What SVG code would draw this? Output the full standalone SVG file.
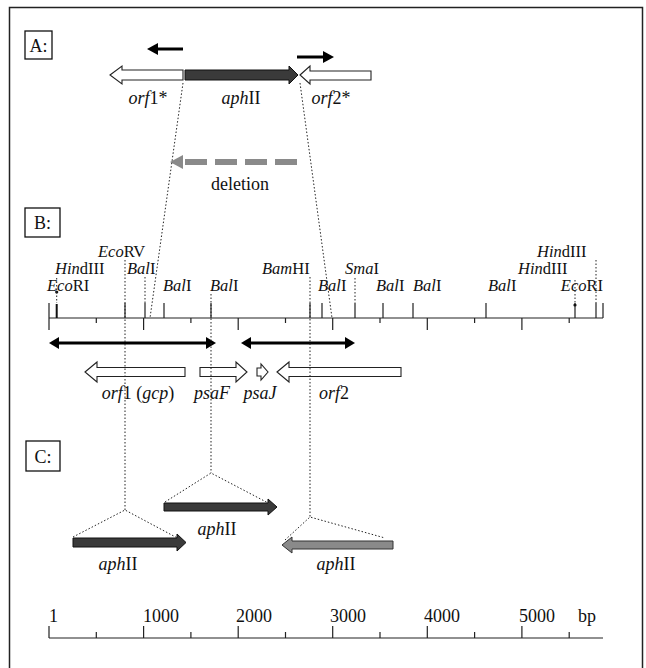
<svg xmlns="http://www.w3.org/2000/svg" width="646" height="668" viewBox="0 0 646 668">
<defs>
<style>
text{font-family:"Liberation Serif","Times New Roman",serif;font-size:18px;fill:#111}
.s{font-size:16.5px}
.i{font-style:italic}
.box{fill:#fff;stroke:#111;stroke-width:1.3}
.dot{fill:none;stroke:#222;stroke-width:1;stroke-dasharray:1.5 2}
.open{fill:#fff;stroke:#222;stroke-width:1.1}
.dark{fill:#3a3a3a;stroke:#111;stroke-width:1}
.grey{fill:#8a8a8a;stroke:#333;stroke-width:1}
.ln{stroke:#222;stroke-width:1.2;fill:none}
.thick{stroke:#000;stroke-width:3;fill:none}
.hd{fill:#000}
</style>
</defs>
<rect width="646" height="668" fill="#fff"/>
<rect x="9.5" y="7.5" width="633" height="680" fill="none" stroke="#222" stroke-width="1.5"/>

<g id="panelA">
<g id="labelA"><rect class="box" x="25" y="31" width="27" height="28"/><text x="38.5" y="52" text-anchor="middle">A:</text></g>
<g id="dirLeft"><line class="thick" x1="183" y1="49" x2="155" y2="49"/><polygon class="hd" points="147,49 158,43 158,55"/></g>
<g id="dirRight"><line class="thick" x1="297" y1="57" x2="325" y2="57"/><polygon class="hd" points="334,57 323,51 323,63"/></g>
<g id="orf1star"><polygon class="open" points="110,75 122,66 122,70 183,70 183,80 122,80 122,84"/><text x="148" y="104" text-anchor="middle"><tspan class="i">orf</tspan>1*</text></g>
<g id="aphA"><polygon class="dark" points="185,70 289,70 289,66 298,75 289,84 289,80 185,80"/><text x="241" y="104" text-anchor="middle"><tspan class="i">aph</tspan>II</text></g>
<g id="orf2star"><polygon class="open" points="300,75 310,66 310,71 371,71 371,80 310,80 310,84"/><text x="331" y="104" text-anchor="middle"><tspan class="i">orf</tspan>2*</text></g>
<g id="deletion"><line x1="297" y1="162" x2="182" y2="162" stroke="#8a8a8a" stroke-width="6" stroke-dasharray="22 8"/><polygon fill="#8a8a8a" points="170,162 183,155 183,169"/><text x="240" y="190" text-anchor="middle">deletion</text></g>
</g>

<g id="panelB">
<g id="labelB"><rect class="box" x="25" y="208" width="35" height="29"/><text x="42.5" y="229" text-anchor="middle">B:</text></g>
<g id="map">
<line class="ln" x1="49" y1="318" x2="603" y2="318"/>
<path class="ln" d="M49,318V330M143.6,318V330M238.2,318V330M332.7,318V330M427.3,318V330M521.9,318V330M96.3,318V323M190.9,318V323M285.5,318V323M380,318V323M474.6,318V323M569.2,318V323"/>
<path class="ln" d="M49,303V318M125,303V318M145,303V318M164,303V318M211,303V318M310,303V318M322,303V318M355,303V318M383,303V318M413,303V318M486,303V318M575,303V318M596,303V318M603,303V318"/>
<path d="M56.7,304V318" stroke="#111" stroke-width="2"/>
<circle cx="56.7" cy="292" r="1.6" fill="#111"/>
<circle cx="575" cy="305" r="1.6" fill="#111"/>
</g>
<g id="sites" class="s">
<text class="s" x="47" y="291"><tspan class="i">Eco</tspan>RI</text>
<text class="s" x="55" y="274"><tspan class="i">Hin</tspan>dIII</text>
<text class="s" x="98" y="257"><tspan class="i">Eco</tspan>RV</text>
<text class="s" x="127" y="274"><tspan class="i">Bal</tspan>I</text>
<text class="s" x="163" y="291"><tspan class="i">Bal</tspan>I</text>
<text class="s" x="210" y="291"><tspan class="i">Bal</tspan>I</text>
<text class="s" x="262" y="274"><tspan class="i">Bam</tspan>HI</text>
<text class="s" x="318" y="291"><tspan class="i">Bal</tspan>I</text>
<text class="s" x="345" y="274"><tspan class="i">Sma</tspan>I</text>
<text class="s" x="376" y="291"><tspan class="i">Bal</tspan>I</text>
<text class="s" x="413" y="291"><tspan class="i">Bal</tspan>I</text>
<text class="s" x="488" y="291"><tspan class="i">Bal</tspan>I</text>
<text class="s" x="603" y="291" text-anchor="end"><tspan class="i">Eco</tspan>RI</text>
<text class="s" x="518" y="274"><tspan class="i">Hin</tspan>dIII</text>
<text class="s" x="537" y="257"><tspan class="i">Hin</tspan>dIII</text>
</g>
<g id="arrowsB">
<line class="thick" x1="57" y1="343" x2="208" y2="343"/><polygon class="hd" points="49,343 59,337 59,349"/><polygon class="hd" points="216,343 206,337 206,349"/>
<line class="thick" x1="249" y1="343" x2="347" y2="343"/><polygon class="hd" points="241,343 251,337 251,349"/><polygon class="hd" points="355,343 345,337 345,349"/>
</g>
<g id="orf1"><polygon class="open" points="85,372 97,362 97,367.5 185,367.5 185,376.5 97,376.5 97,382"/><text x="138" y="399" text-anchor="middle"><tspan class="i">orf</tspan>1 (<tspan class="i">gcp</tspan>)</text></g>
<g id="psaF"><polygon class="open" points="200,367.5 236,367.5 236,362 247,372 236,382 236,376.5 200,376.5"/><text x="212" y="399" text-anchor="middle" class="i">psaF</text></g>
<g id="psaJ"><polygon class="open" points="257,368 261,368 261,364 268,372 261,380 261,376 257,376"/><text x="260" y="399" text-anchor="middle" class="i">psaJ</text></g>
<g id="orf2"><polygon class="open" points="277,372 289,362 289,367.5 401,367.5 401,376.5 289,376.5 289,382"/><text x="334" y="399" text-anchor="middle"><tspan class="i">orf</tspan>2</text></g>
</g>

<g id="connectors">
<line class="dot" x1="183" y1="83" x2="150" y2="318"/>
<line class="dot" x1="300" y1="83" x2="332" y2="318"/>
<line class="dot" x1="56.7" y1="278" x2="56.7" y2="303"/>
<line class="dot" x1="125" y1="260" x2="125" y2="510"/>
<line class="dot" x1="145" y1="277" x2="145" y2="303"/>
<line class="dot" x1="211" y1="294" x2="211" y2="473"/>
<line class="dot" x1="310" y1="277" x2="310" y2="517"/>
<line class="dot" x1="355" y1="278" x2="355" y2="303"/>
<line class="dot" x1="575" y1="280" x2="575" y2="303"/>
<line class="dot" x1="596" y1="260" x2="596" y2="303"/>
<polyline class="dot" points="73,537 125,510 183,541"/>
<polyline class="dot" points="165,502 211,473 272,505"/>
<polyline class="dot" points="285,540 310,517 385,538"/>
</g>

<g id="panelC">
<g id="labelC"><rect class="box" x="26" y="441" width="34" height="30"/><text x="43" y="463" text-anchor="middle">C:</text></g>
<g id="aphC1"><polygon class="dark" points="73,538 177,538 177,534 186,542.5 177,551 177,547 73,547"/><text x="118" y="570" text-anchor="middle"><tspan class="i">aph</tspan>II</text></g>
<g id="aphC2"><polygon class="dark" points="164,503 268,503 268,499 277,507 268,515 268,511 164,511"/><text x="217" y="535" text-anchor="middle"><tspan class="i">aph</tspan>II</text></g>
<g id="aphC3"><polygon class="grey" points="282,545 292,537 292,541 393,541 393,549 292,549 292,553"/><text x="336" y="570" text-anchor="middle"><tspan class="i">aph</tspan>II</text></g>
</g>

<g id="scale">
<line class="ln" x1="49" y1="638" x2="603" y2="638"/>
<path class="ln" d="M49,626V638M143.6,626V638M238.2,626V638M332.7,626V638M427.3,626V638M521.9,626V638M96.3,632V638M190.9,632V638M285.5,632V638M380,632V638M474.6,632V638M569.2,632V638"/>
<text x="49" y="622">1</text>
<text x="143" y="622">1000</text>
<text x="236" y="622">2000</text>
<text x="330" y="622">3000</text>
<text x="424" y="622">4000</text>
<text x="519" y="622">5000</text>
<text x="578" y="622">bp</text>
</g>
</svg>
